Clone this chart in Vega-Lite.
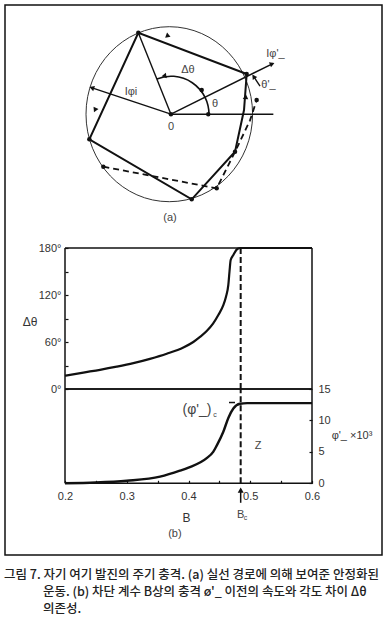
{
  "$schema": "https://vega.github.io/schema/vega-lite/v6.json",
  "width": 377,
  "height": 550,
  "autosize": {"type": "none"},
  "padding": {"left": 5, "top": 5, "right": 9, "bottom": 79},
  "background": "white",
  "config": {
    "view": {"stroke": "#111", "strokeWidth": 1.5},
    "font": "Liberation Sans",
    "text": {"font": "Liberation Sans", "fontSize": 11, "color": "#333"},
    "axis": {"labelFont": "Liberation Sans", "labelFontSize": 11, "labelColor": "#333", "titleFont": "Liberation Sans", "titleFontSize": 11, "titleColor": "#333", "titleFontWeight": "normal", "domain": false, "grid": false, "tickColor": "#111", "tickWidth": 1.2, "labelOverlap": false, "labelFlush": false}
  },
  "datasets": {
    "loop": [
      {"seq": 1, "u": 0.929, "v": 0.459},
      {"seq": 2, "u": -0.372, "v": 0.931},
      {"seq": 3, "u": -0.96, "v": -0.287},
      {"seq": 4, "u": 0.269, "v": -0.973},
      {"seq": 5, "u": 0.789, "v": -0.429},
      {"seq": 6, "u": 0.897, "v": 0.048},
      {"seq": 7, "u": 0.929, "v": 0.459}
    ],
    "dashpath": [
      {"seq": 1, "u": -0.792, "v": -0.6},
      {"seq": 2, "u": 0.569, "v": -0.847},
      {"seq": 3, "u": 0.8, "v": -0.409},
      {"seq": 4, "u": 0.969, "v": -0.07},
      {"seq": 5, "u": 1.049, "v": 0.162}
    ],
    "spokes": [
      {"u": 0.02, "v": 0, "u2": -0.372, "v2": 0.931},
      {"u": 0.02, "v": 0, "u2": 1.249, "v2": 0.582},
      {"u": 0.02, "v": 0, "u2": -0.944, "v2": 0.307},
      {"u": 0.02, "v": 0, "u2": 1.249, "v2": 0},
      {"u": 1.089, "v": 0.322, "u2": 1.009, "v2": 0.437}
    ],
    "nodes": [
      {"u": 0.02, "v": 0}, {"u": -0.372, "v": 0.931}, {"u": 0.929, "v": 0.459},
      {"u": -0.96, "v": -0.287}, {"u": 0.269, "v": -0.973}, {"u": 0.789, "v": -0.429},
      {"u": -0.792, "v": -0.6}, {"u": 0.569, "v": -0.847}, {"u": 1.049, "v": 0.162},
      {"u": 0.468, "v": 0}, {"u": 0.389, "v": 0.277}
    ],
    "heads": [
      {"u": -0.012, "v": 0.894, "heading": 111},
      {"u": -0.892, "v": 0.048, "heading": 205},
      {"u": -0.93, "v": 0.302, "heading": 289},
      {"u": 1.235, "v": 0.575, "heading": 68},
      {"u": -0.064, "v": 0.437, "heading": 260},
      {"u": 0.917, "v": 0.2, "heading": 4},
      {"u": 1.013, "v": 0.43, "heading": 326}
    ],
    "alabels": [
      {"u": 1.275, "v": 0.688, "label": "Iφ'_"},
      {"u": 1.191, "v": 0.333, "label": "θ'_"},
      {"u": 0.224, "v": 0.505, "label": "Δθ"},
      {"u": 0.549, "v": 0.122, "label": "θ"},
      {"u": -0.46, "v": 0.254, "label": "Iφi"},
      {"u": 0.02, "v": -0.146, "label": "0"},
      {"u": 0.008, "v": -1.186, "label": "(a)"}
    ],
    "top": [
      {"B": 0.2, "dtheta": 17}, {"B": 0.2297, "dtheta": 21}, {"B": 0.2567, "dtheta": 24.5},
      {"B": 0.2837, "dtheta": 28.5}, {"B": 0.3107, "dtheta": 33}, {"B": 0.3376, "dtheta": 38.5},
      {"B": 0.3647, "dtheta": 45}, {"B": 0.3917, "dtheta": 53}, {"B": 0.4078, "dtheta": 60},
      {"B": 0.4186, "dtheta": 66.5}, {"B": 0.4295, "dtheta": 74}, {"B": 0.44, "dtheta": 83.8},
      {"B": 0.4483, "dtheta": 94.5}, {"B": 0.4564, "dtheta": 107}, {"B": 0.4607, "dtheta": 117.8},
      {"B": 0.4645, "dtheta": 132.8}, {"B": 0.4664, "dtheta": 150}, {"B": 0.4683, "dtheta": 164.7},
      {"B": 0.4726, "dtheta": 171}, {"B": 0.479, "dtheta": 178.7}, {"B": 0.4845, "dtheta": 180},
      {"B": 0.6, "dtheta": 180}
    ],
    "topframe": [
      {"B": 0.2, "B2": 0.2, "dtheta": 0, "dtheta2": 180},
      {"B": 0.6, "B2": 0.6, "dtheta": 0, "dtheta2": 180},
      {"B": 0.2, "B2": 0.6, "dtheta": 0, "dtheta2": 0},
      {"B": 0.2, "B2": 0.6, "dtheta": 180, "dtheta2": 180}
    ],
    "bottom": [
      {"B": 0.2, "phi": 0}, {"B": 0.25, "phi": 0.12}, {"B": 0.3, "phi": 0.4},
      {"B": 0.354, "phi": 1.05}, {"B": 0.386, "phi": 2.0}, {"B": 0.4, "phi": 2.5},
      {"B": 0.4295, "phi": 4.0}, {"B": 0.44, "phi": 5.0}, {"B": 0.4457, "phi": 6.0},
      {"B": 0.4564, "phi": 8.2}, {"B": 0.4645, "phi": 10.4}, {"B": 0.4726, "phi": 11.9},
      {"B": 0.4834, "phi": 12.65}, {"B": 0.495, "phi": 12.75}, {"B": 0.6, "phi": 12.75}
    ],
    "bottomframe": [
      {"B": 0.2, "B2": 0.2, "phi": 0, "phi2": 15},
      {"B": 0.6, "B2": 0.6, "phi": 0, "phi2": 15},
      {"B": 0.2, "B2": 0.6, "phi": 0, "phi2": 0},
      {"B": 0.2, "B2": 0.6, "phi": 15, "phi2": 15}
    ],
    "caption": [
      {"line": 1, "part": "head", "text": "그림 7. 자기 여기 발진의 주기 충격. (a) 실선 경로에 의해 보여준 안정화된"},
      {"line": 2, "part": "rest", "text": "운동. (b) 차단 계수 B상의 충격 ø'_ 이전의 속도와 각도 차이 Δθ"},
      {"line": 3, "part": "rest", "text": "의존성."}
    ]
  },
  "layer": [
    {
      "encoding": {
        "x": {"field": "u", "type": "quantitative", "scale": {"domain": [-1, 1], "range": [81, 247.6], "nice": false, "zero": false}, "axis": null},
        "y": {"field": "v", "type": "quantitative", "scale": {"domain": [-1, 1], "range": [196.7, 21.7], "nice": false, "zero": false}, "axis": null}
      },
      "layer": [
        {"data": {"values": [{"u": 0, "v": 0}]}, "mark": {"type": "point", "shape": "M-0.952,0A0.952,1,0,1,1,0.952,0A0.952,1,0,1,1,-0.952,0Z", "size": 30625, "filled": false, "stroke": "#333", "strokeWidth": 1, "opacity": 1}},
        {"data": {"name": "loop"}, "mark": {"type": "line", "stroke": "#111", "strokeWidth": 2}, "encoding": {"order": {"field": "seq"}}},
        {"data": {"name": "dashpath"}, "mark": {"type": "line", "stroke": "#111", "strokeWidth": 1.8, "strokeDash": [6, 4]}, "encoding": {"order": {"field": "seq"}}},
        {"data": {"name": "spokes"}, "mark": {"type": "rule", "stroke": "#111", "strokeWidth": 1.4}, "encoding": {"x2": {"field": "u2"}, "y2": {"field": "v2"}}},
        {"data": {"values": [{"u": 0.02, "v": 0}]}, "mark": {"type": "arc", "radius": 38, "radius2": 38, "theta": -0.38, "theta2": 1.5708, "fill": null, "stroke": "#111", "strokeWidth": 1.6}},
        {"data": {"name": "nodes"}, "mark": {"type": "point", "shape": "circle", "filled": true, "size": 20, "color": "#111", "opacity": 1}},
        {"data": {"name": "heads"}, "mark": {"type": "point", "shape": "triangle-up", "filled": true, "size": 30, "color": "#111", "opacity": 1}, "encoding": {"angle": {"field": "heading", "type": "quantitative", "scale": null}}},
        {"data": {"name": "alabels"}, "mark": {"type": "text", "fontSize": 11, "color": "#444"}, "encoding": {"text": {"field": "label"}}}
      ]
    },
    {
      "encoding": {
        "x": {"field": "B", "type": "quantitative", "scale": {"domain": [0.2, 0.6], "range": [60, 307], "nice": false, "zero": false}, "axis": null},
        "y": {"field": "dtheta", "type": "quantitative", "scale": {"domain": [0, 180], "range": [384, 243], "nice": false, "zero": false},
          "axis": {"orient": "left", "offset": -60, "values": [0, 30, 60, 90, 120, 150, 180], "labelExpr": "datum.value % 60 == 0 ? datum.value + '°' : ''", "tickSize": -3, "labelPadding": 7, "title": "Δθ", "titleAngle": 0, "titleX": -35.5, "titleY": 316, "titleAlign": "center", "titleBaseline": "middle", "titleFontSize": 12}}
      },
      "layer": [
        {"data": {"name": "topframe"}, "mark": {"type": "rule", "stroke": "#111", "strokeWidth": 1.5}, "encoding": {"x2": {"field": "B2"}, "y2": {"field": "dtheta2"}}},
        {"data": {"name": "top"}, "mark": {"type": "line", "interpolate": "monotone", "stroke": "#111", "strokeWidth": 2.2}},
        {"data": {"values": [{"B": 0.4845, "dtheta": 0, "dtheta2": 180}]}, "mark": {"type": "rule", "stroke": "#111", "strokeWidth": 2, "strokeDash": [6, 3]}, "encoding": {"y2": {"field": "dtheta2"}}}
      ]
    },
    {
      "encoding": {
        "x": {"field": "B", "type": "quantitative", "scale": {"domain": [0.2, 0.6], "range": [60, 307], "nice": false, "zero": false},
          "axis": {"orient": "bottom", "offset": -71.7, "values": [0.2, 0.25, 0.3, 0.35, 0.4, 0.45, 0.5, 0.55, 0.6], "labelExpr": "abs(datum.value * 10 - round(datum.value * 10)) < 0.01 ? format(datum.value, '.1f') : ''", "tickSize": -3, "labelPadding": 10, "title": "B", "titleX": 181, "titleY": 33.7, "titleAlign": "center", "titleBaseline": "middle", "titleFontSize": 12}},
        "y": {"field": "phi", "type": "quantitative", "scale": {"domain": [0, 15], "range": [478.3, 384], "nice": false, "zero": false},
          "axis": {"orient": "right", "offset": -70, "values": [0, 5, 10, 15], "tickSize": -3, "labelPadding": 9, "title": "φ'_ ×10³", "titleAngle": 0, "titleX": 39.5, "titleY": 430, "titleAlign": "center", "titleBaseline": "middle", "titleFontSize": 11}}
      },
      "layer": [
        {"data": {"name": "bottomframe"}, "mark": {"type": "rule", "stroke": "#111", "strokeWidth": 1.5}, "encoding": {"x2": {"field": "B2"}, "y2": {"field": "phi2"}}},
        {"data": {"name": "bottom"}, "mark": {"type": "line", "interpolate": "monotone", "stroke": "#111", "strokeWidth": 2.4}},
        {"data": {"values": [{"B": 0.4845, "phi": 0, "phi2": 15}]}, "mark": {"type": "rule", "stroke": "#111", "strokeWidth": 2, "strokeDash": [6, 3]}, "encoding": {"y2": {"field": "phi2"}}},
        {"data": {"values": [{"B": 0.4656, "B2": 0.4753, "phi": 12.85}]}, "mark": {"type": "rule", "stroke": "#111", "strokeWidth": 1.5}, "encoding": {"x2": {"field": "B2"}}},
        {"data": {"values": [{"B": 0.4845, "phi": -3.1, "phi2": -1.0}]}, "mark": {"type": "rule", "stroke": "#111", "strokeWidth": 1.5}, "encoding": {"y2": {"field": "phi2"}}},
        {"data": {"values": [{"B": 0.4845, "phi": -1.1}]}, "mark": {"type": "point", "shape": "triangle-up", "filled": true, "size": 36, "color": "#111", "opacity": 1}},
        {"data": {"values": [{"B": 0.5126, "phi": 5.95, "label": "Z"}, {"B": 0.4845, "phi": -5.06, "label": "B"}, {"B": 0.378, "phi": -8.03, "label": "(b)"}]}, "mark": {"type": "text", "fontSize": 11, "color": "#444"}, "encoding": {"text": {"field": "label"}}},
        {"data": {"values": [{"B": 0.4138, "phi": 11.7, "label": "(φ'_)"}]}, "mark": {"type": "text", "fontSize": 14, "color": "#444"}, "encoding": {"text": {"field": "label"}}},
        {"data": {"values": [{"B": 0.4429, "phi": 10.9, "label": "c"}, {"B": 0.4923, "phi": -5.53, "label": "c"}]}, "mark": {"type": "text", "fontSize": 7, "color": "#444"}, "encoding": {"text": {"field": "label"}}}
      ]
    },
    {
      "data": {"name": "caption"},
      "mark": {"type": "text", "align": "left", "baseline": "middle", "font": "Noto Sans CJK KR", "fontSize": 12.5, "fontWeight": 500, "color": "#222"},
      "encoding": {
        "x": {"field": "part", "type": "ordinal", "scale": {"type": "point", "domain": ["head", "rest"], "range": [-1, 38], "padding": 0}, "axis": null},
        "y": {"field": "line", "type": "quantitative", "scale": {"domain": [1, 3], "range": [570, 604], "nice": false, "zero": false}, "axis": null},
        "text": {"field": "text"}
      }
    }
  ],
  "resolve": {"scale": {"x": "independent", "y": "independent"}}
}
